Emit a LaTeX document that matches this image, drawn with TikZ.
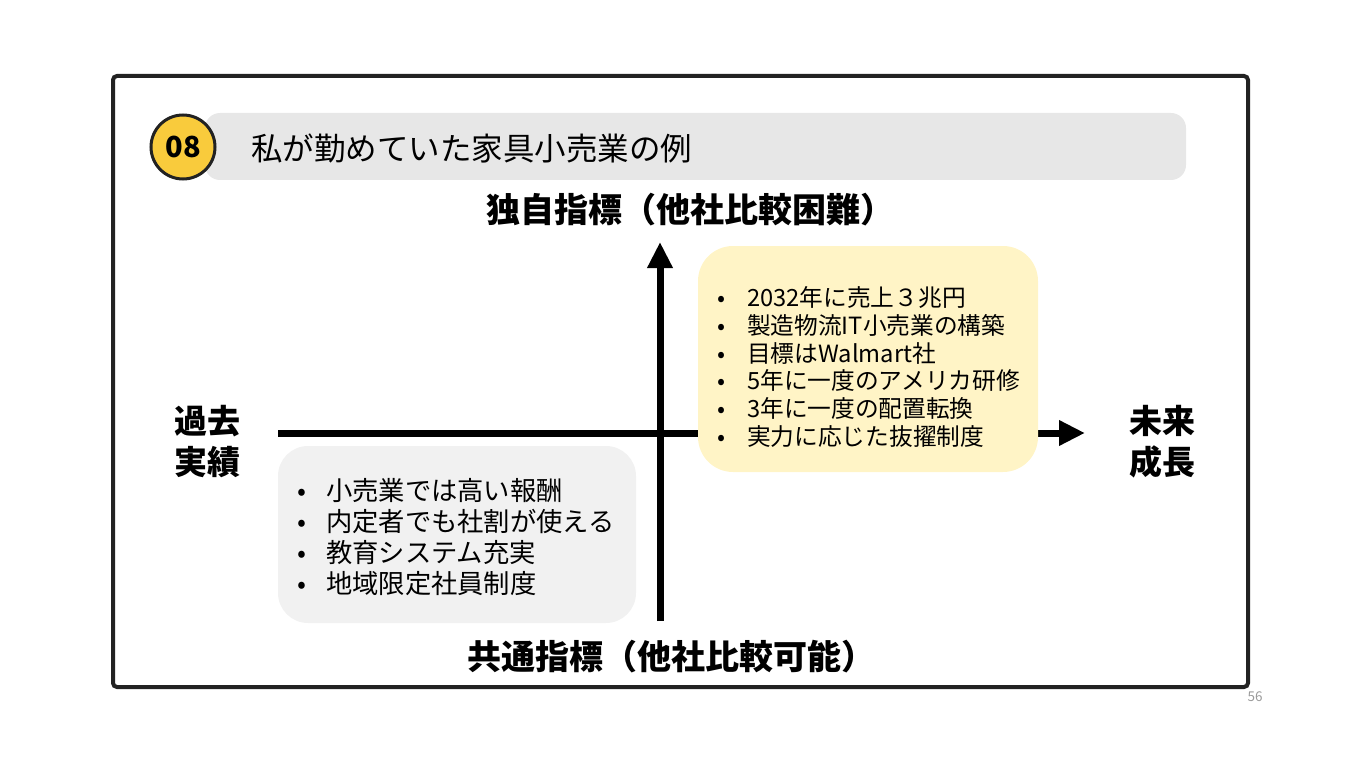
\documentclass[tikz,border=0pt]{standalone}
\usepackage{fontspec}
\setmainfont{Noto Sans CJK JP}
\usetikzlibrary{arrows.meta}
\definecolor{frame}{HTML}{222222}
\definecolor{titlebg}{HTML}{E7E7E7}
\definecolor{badge}{HTML}{F9CB3C}
\definecolor{ybox}{HTML}{FFF4C6}
\definecolor{gbox}{HTML}{F1F1F1}
\definecolor{pgnum}{HTML}{999999}
\tikzset{
  axis/.style={line width=7pt, draw=black, -{Triangle[length=26pt,width=24pt]}},
  axislabel/.style={font=\fontsize{34}{36}\selectfont\bfseries, inner sep=0pt},
  sidelabel/.style={font=\fontsize{33}{41}\selectfont\bfseries, inner sep=0pt, align=left},
  listtext/.style={inner sep=0pt, align=left, anchor=west},
}
\newcommand{\bul}[1]{\makebox[#1][l]{•}}
\begin{document}
\begin{tikzpicture}[x=1pt,y=-1pt]
\useasboundingbox (0,0) rectangle (1361,765);
% outer frame
\draw[line width=4pt, draw=frame, rounded corners=4pt] (113,76) rectangle (1248,687);
% title bar
\fill[titlebg, rounded corners=15pt] (205,113) rectangle (1186,180);
\node[circle, minimum size=64pt, fill=badge, draw=frame, line width=3pt, inner sep=0pt,
      font=\fontsize{29}{30}\selectfont\bfseries] (badge) at (183,147) {08};
\node[anchor=west, inner sep=0pt, font=\fontsize{31.5}{33}\selectfont] (title) at (251,148) {私が勤めていた家具小売業の例};
% boxes
\fill[gbox, rounded corners=30pt] (278,446) rectangle (636,623);
% axes
\coordinate (vs) at (660,621);
\coordinate (ve) at (660,242);
\coordinate (hs) at (278,433);
\coordinate (he) at (1085,433);
\draw[axis] (hs) -- (he);
\draw[axis] (vs) -- (ve);
% yellow box drawn over horizontal axis
\fill[ybox, rounded corners=35pt] (698,246) rectangle (1038,472);
% axis labels
\node[axislabel] (top) at (690,210) {独自指標（他社比較困難）};
\node[axislabel] (bottom) at (671,657) {共通指標（他社比較可能）};
\node[sidelabel, anchor=center] (left) at (207,442) {過去\\実績};
\node[sidelabel, anchor=center] (right) at (1162,442) {未来\\成長};
% lists
\node[listtext, font=\fontsize{23.7}{27.8}\selectfont] (ylist) at (717,367) {%
\bul{30pt}2032年に売上３兆円\\
\bul{30pt}製造物流IT小売業の構築\\
\bul{30pt}目標はWalmart社\\
\bul{30pt}5年に一度のアメリカ研修\\
\bul{30pt}3年に一度の配置転換\\
\bul{30pt}実力に応じた抜擢制度};
\node[listtext, font=\fontsize{26.3}{31}\selectfont] (glist) at (297,537) {%
\bul{29pt}小売業では高い報酬\\
\bul{29pt}内定者でも社割が使える\\
\bul{29pt}教育システム充実\\
\bul{29pt}地域限定社員制度};
% page number
\node[font=\fontsize{13.5}{14}\selectfont, text=pgnum, inner sep=0pt] (pg) at (1255,697) {56};
\end{tikzpicture}
\end{document}
